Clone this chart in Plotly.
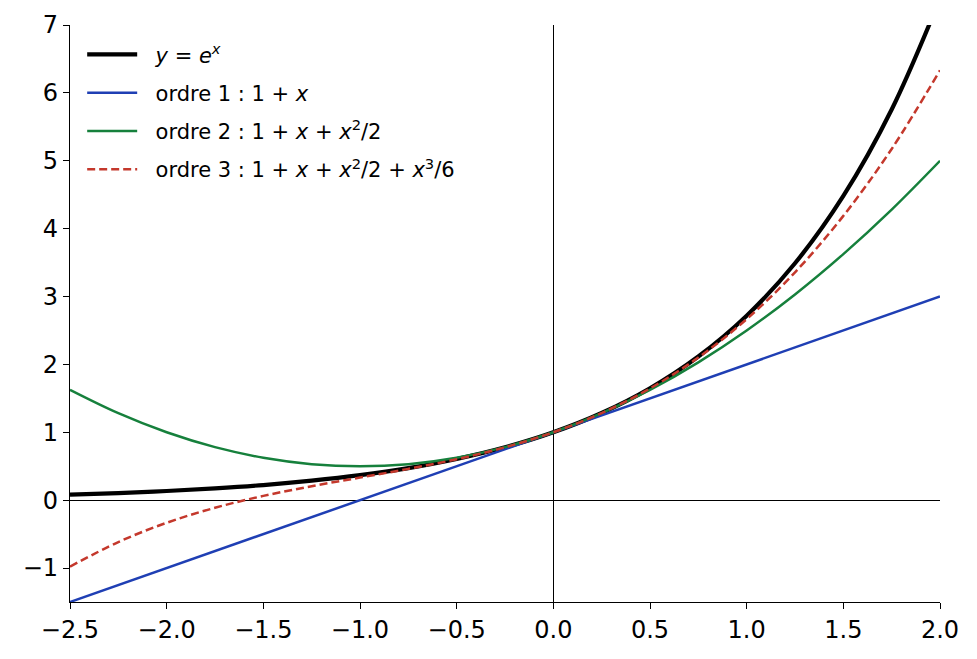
import plotly.graph_objects as go

# valeurs (pas de 0.25)
x_vals = [-2.5, -2.25, -2.0, -1.75, -1.5, -1.25, -1.0, -0.75, -0.5, -0.25,
          0.0, 0.25, 0.5, 0.75, 1.0, 1.25, 1.5, 1.75, 2.0]
y_exp = [0.082, 0.105, 0.135, 0.174, 0.223, 0.287, 0.368, 0.472, 0.607, 0.779,
         1.0, 1.284, 1.649, 2.117, 2.718, 3.490, 4.482, 5.755, 7.389]
y_ordre1 = [-1.5, -1.25, -1.0, -0.75, -0.5, -0.25, 0.0, 0.25, 0.5, 0.75,
            1.0, 1.25, 1.5, 1.75, 2.0, 2.25, 2.5, 2.75, 3.0]
y_ordre2 = [1.625, 1.281, 1.0, 0.781, 0.625, 0.531, 0.5, 0.531, 0.625, 0.781,
            1.0, 1.281, 1.625, 2.031, 2.5, 3.031, 3.625, 4.281, 5.0]
y_ordre3 = [-0.979, -0.617, -0.333, -0.112, 0.063, 0.206, 0.333, 0.461, 0.604, 0.779,
            1.0, 1.284, 1.646, 2.102, 2.667, 3.357, 4.188, 5.174, 6.333]

x_ticks = [-2.5, -2.0, -1.5, -1.0, -0.5, 0.0, 0.5, 1.0, 1.5, 2.0]
y_ticks = [-1, 0, 1, 2, 3, 4, 5, 6, 7]

pad = "\u00a0\u00a0"  # petit espace entre le trait et le texte de la légende
sp = "\u00a0"
plus = f"{sp}+{sp}"

fig = go.Figure()

fig.add_trace(go.Scatter(
    x=x_vals, y=y_exp, mode='lines', line_shape='spline',
    line=dict(color='black', width=4.2),
    legendgroup='a',
    name=pad + f"<i>y</i>{sp}={sp}<i>e</i><sup><i>x</i></sup>"
))
fig.add_trace(go.Scatter(
    x=x_vals, y=y_ordre1, mode='lines',
    line=dict(color='#1f3fb4', width=2.5),
    legendgroup='b',
    name=pad + f"ordre 1 : 1{plus}<i>x</i>"
))
fig.add_trace(go.Scatter(
    x=x_vals, y=y_ordre2, mode='lines', line_shape='spline',
    line=dict(color='#16803c', width=2.5),
    legendgroup='c',
    name=pad + f"ordre 2 : 1{plus}<i>x</i>{plus}<i>x</i><sup>2</sup>/2"
))
fig.add_trace(go.Scatter(
    x=x_vals, y=y_ordre3, mode='lines', line_shape='spline',
    line=dict(color='#c4382c', width=2.5, dash='8px,4px'),
    legendgroup='d',
    name=pad + f"ordre 3 : 1{plus}<i>x</i>{plus}<i>x</i><sup>2</sup>/2{plus}<i>x</i><sup>3</sup>/6"
))

# la page ajoute 8 px de marge autour de la figure
fig.update_layout(
    width=961,
    height=643,
    margin=dict(l=62, r=29, t=17, b=49, autoexpand=False),
    plot_bgcolor='white',
    paper_bgcolor='white',
    font=dict(family='DejaVu Sans', size=24, color='black'),
    showlegend=True,
    legend=dict(
        x=0.014, y=0.984, xanchor='left', yanchor='top',
        bgcolor='rgba(0,0,0,0)',
        font=dict(size=21),
        traceorder='grouped',
        itemwidth=50,
        tracegroupgap=8,
    ),
)

fig.update_xaxes(
    range=[-2.5, 2.0],
    tickvals=x_ticks,
    tickformat='.1f',
    automargin=False,
    showgrid=False,
    showline=True, linecolor='black', linewidth=1.2,
    ticks='outside', ticklen=6, tickwidth=1.2, tickcolor='black',
    zeroline=True, zerolinecolor='black', zerolinewidth=1,
)
fig.update_yaxes(
    range=[-1.5, 7.0],
    tickvals=y_ticks,
    automargin=False,
    showgrid=False,
    showline=True, linecolor='black', linewidth=1.2,
    ticks='outside', ticklen=6, tickwidth=1.2, tickcolor='black',
    zeroline=True, zerolinecolor='black', zerolinewidth=1,
)

fig.write_html("out.html")
